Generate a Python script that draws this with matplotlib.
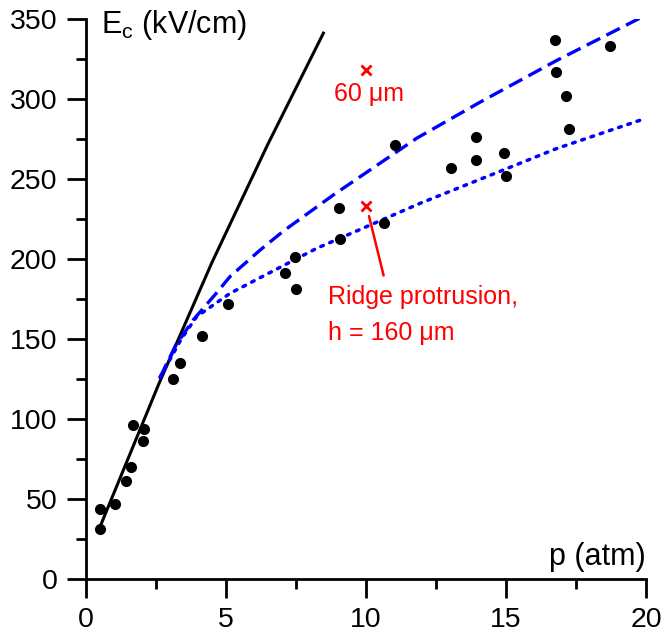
import numpy as np
import matplotlib.pyplot as plt

plt.rcParams["font.family"] = ["Liberation Sans", "DejaVu Sans"]
plt.rcParams["mathtext.fontset"] = "custom"
plt.rcParams["mathtext.rm"] = "Liberation Sans"

# measured data points
p_data = [0.5, 0.5, 1.04, 1.42, 1.61, 1.67, 2.08, 2.02, 3.1, 3.36, 4.14, 5.07,
          7.1, 7.46, 7.5, 9.05, 9.07, 10.64, 11.02, 13.04, 13.92, 13.92,
          14.94, 14.98, 16.75, 16.79, 17.15, 17.25, 18.71]
e_data = [31, 44, 47, 61, 70, 96, 93.5, 86, 125, 135, 152, 172,
          191, 201, 181, 232, 212.5, 222.5, 271, 256.7, 276, 261.7,
          266, 252, 337, 317, 302, 281, 333]

# low-pressure line
p_lin = [0.5, 2.6, 4.5, 6.5, 8.5]
e_lin = [32.7, 122, 198, 272, 342]

# dashed curve
p_dash = [2.64, 3.2, 3.83, 4.67, 5.14, 6.21, 7.05, 8.83, 11.81, 14.07, 16.8, 20.0]
e_dash = [126, 146, 162, 179, 189, 205.5, 217.5, 240, 275.5, 298, 324, 352.5]

# dotted curve
p_dot = [2.64, 3.4, 3.95, 5.14, 6.51, 8.24, 9.07, 11.93, 14.6, 16.8, 20.0]
e_dot = [126, 150, 164, 178.5, 191, 206.7, 213, 234.8, 253.5, 269, 288]

# ridge protrusion points
p_ridge = [10.0, 10.0]
e_ridge = [318, 233]

fig = plt.figure(figsize=(6.62, 6.43), dpi=100)
ax = fig.add_axes([0.13, 0.0995, 0.846, 0.871])

ax.plot(p_lin, e_lin, color="black", lw=2.2, solid_capstyle="butt")
ax.plot(p_dash, e_dash, color="#0000ff", lw=2.4, linestyle=(0, (4.5, 2.1)))
ax.plot(p_dot, e_dot, color="#0000ff", lw=2.5, linestyle=(0, (0.8, 2.0)),
        dash_capstyle="round")
ax.plot(p_data, e_data, "o", color="black", ms=7, zorder=5)
ax.plot(p_ridge, e_ridge, "x", color="red", ms=7, mew=2)

ax.annotate("", xy=(10.08, 228.5), xytext=(10.65, 188),
            arrowprops=dict(arrowstyle="-", color="red", lw=1.8))
ax.text(10.1, 299, "60 \u03bcm", color="red", fontsize=18, ha="center", va="baseline")
ax.text(8.64, 176, "Ridge protrusion,", color="red", fontsize=18, ha="left", va="center")
ax.text(8.64, 154, "h = 160 \u03bcm", color="red", fontsize=18, ha="left", va="center")

ax.text(0.54, 341, r"E$_\mathrm{c}$ (kV/cm)", fontsize=22, ha="left", va="baseline")
ax.text(20, 9, "p (atm)", fontsize=22, ha="right", va="baseline")

ax.set_xlim(0, 20)
ax.set_ylim(0, 350)
ax.set_xticks([0, 5, 10, 15, 20])
ax.set_xticks([2.5, 7.5, 12.5, 17.5], minor=True)
ax.set_yticks(np.arange(0, 351, 50))
ax.set_yticks(np.arange(25, 350, 50), minor=True)

for s in ["top", "right"]:
    ax.spines[s].set_visible(False)
for s in ["left", "bottom"]:
    ax.spines[s].set_linewidth(2)
ax.tick_params(which="major", direction="out", length=13.5, width=2, labelsize=20.5)
ax.tick_params(which="minor", direction="out", length=7, width=2)
ax.tick_params(axis="x", pad=7)
ax.tick_params(axis="y", pad=7)

fig.savefig("out.png", dpi=100)
